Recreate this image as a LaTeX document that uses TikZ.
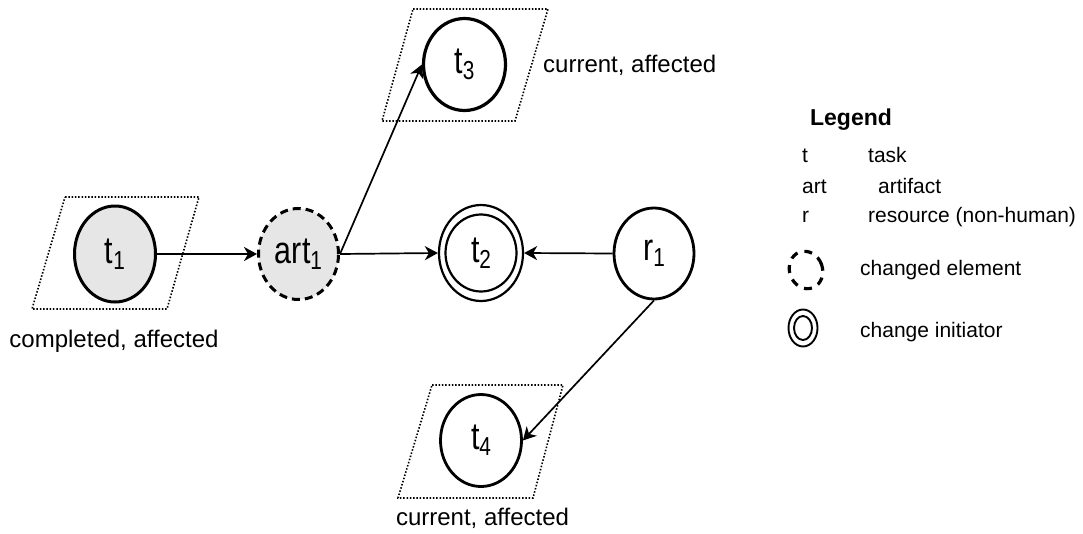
\documentclass[tikz,border=0pt]{standalone}
\usepackage{fontspec}
\setmainfont{Liberation Sans}
\usepackage{graphicx}
\usetikzlibrary{shapes.geometric,arrows.meta}
\newcommand\nlbl[2]{\scalebox{0.8}[1]{\fontsize{38}{38}\selectfont #1\raisebox{-6pt}{\fontsize{26}{26}\selectfont #2}}}
\definecolor{elfill}{HTML}{E6E6E6}
\begin{document}
\begin{tikzpicture}[x=1pt,y=-1pt,
  el/.style={ellipse,draw,line width=3pt,inner sep=0pt,minimum width=81pt,minimum height=94pt},
  chg/.style={dash pattern=on 8pt off 5pt},
  arr/.style={-{Stealth[length=13pt,width=14pt,inset=4pt]},line width=1.7pt},
  par/.style={line width=1.6pt,dash pattern=on 1.5pt off 1.8pt},
  lab/.style={inner sep=0pt,font=\fontsize{24}{24}\selectfont},
  leg/.style={inner sep=0pt,anchor=base west,font=\fontsize{21}{21}\selectfont}]
\useasboundingbox (0,0) rectangle (1083,533);
% dotted parallelograms
\draw[par] (65,197) -- (199,197) -- (167,309) -- (32,309) -- cycle;
\draw[par] (413,9) -- (548,9) -- (515,121) -- (382,121) -- cycle;
\draw[par] (432,385) -- (563,385) -- (533,498) -- (398,498) -- cycle;
% nodes
\node[el,fill=elfill,minimum height=96pt] (t1) at (115,254) {\nlbl{t}{1}};
\node[el,fill=elfill,chg,minimum width=80pt,minimum height=91pt] (art1) at (298.5,254) {\nlbl{art}{1}};
\node[el,line width=2.2pt,minimum width=84pt,minimum height=96pt] (t2) at (481,253) {};
\node[el,line width=2.2pt,minimum width=71pt,minimum height=77pt] (t2i) at (481,253) {\nlbl{t}{2}};
\node[el,line width=3.2pt,minimum width=82pt,minimum height=92pt] (t3) at (464.5,64.5) {\nlbl{t}{3}};
\node[el,line width=2.8pt,minimum width=80pt,minimum height=91pt] (r1) at (654,253.5) {\nlbl{r}{1}};
\node[el,line width=2.8pt,minimum width=81pt,minimum height=92pt] (t4) at (481,440.5) {\nlbl{t}{4}};
% labels
\node[lab,anchor=base] (l1) at (114,347) {completed, affected};
\node[lab,anchor=base west] (l3) at (543,72) {current, affected};
\node[lab,anchor=base] (l4) at (482.5,525) {current, affected};
% connectors
\draw[arr] (t1.east) -- (art1.west);
\draw[arr] (art1.east) -- (t2.west);
\draw[arr] (art1.east) -- (t3.west);
\draw[arr] (r1.west) -- (t2.east);
\draw[arr] (r1.south) -- (t4.east);
% legend
\node[inner sep=0pt,anchor=base,font=\fontsize{23}{23}\selectfont\bfseries] (lg) at (851,125) {Legend};
\node[leg] (k1) at (802,162) {t};
\node[leg] (v1) at (868,162) {task};
\node[leg] (k2) at (802,193) {art};
\node[leg] (v2) at (878,193) {artifact};
\node[leg] (k3) at (802,222) {r};
\node[leg] (v3) at (868,222) {resource (non-human)};
\node[ellipse,draw,line width=3.2pt,dash pattern=on 8pt off 7pt,minimum width=33pt,minimum height=38pt,inner sep=0pt,rotate=20] (ic1) at (806,270) {};
\node[leg] (v4) at (860,275) {changed element};
\node[ellipse,draw,line width=1.9pt,minimum width=29pt,minimum height=37pt,inner sep=0pt] (ic2) at (803,328) {};
\node[ellipse,draw,line width=1.9pt,minimum width=18pt,minimum height=24pt,inner sep=0pt] (ic2i) at (803,328) {};
\node[leg] (v5) at (860,337) {change initiator};
\end{tikzpicture}
\end{document}
